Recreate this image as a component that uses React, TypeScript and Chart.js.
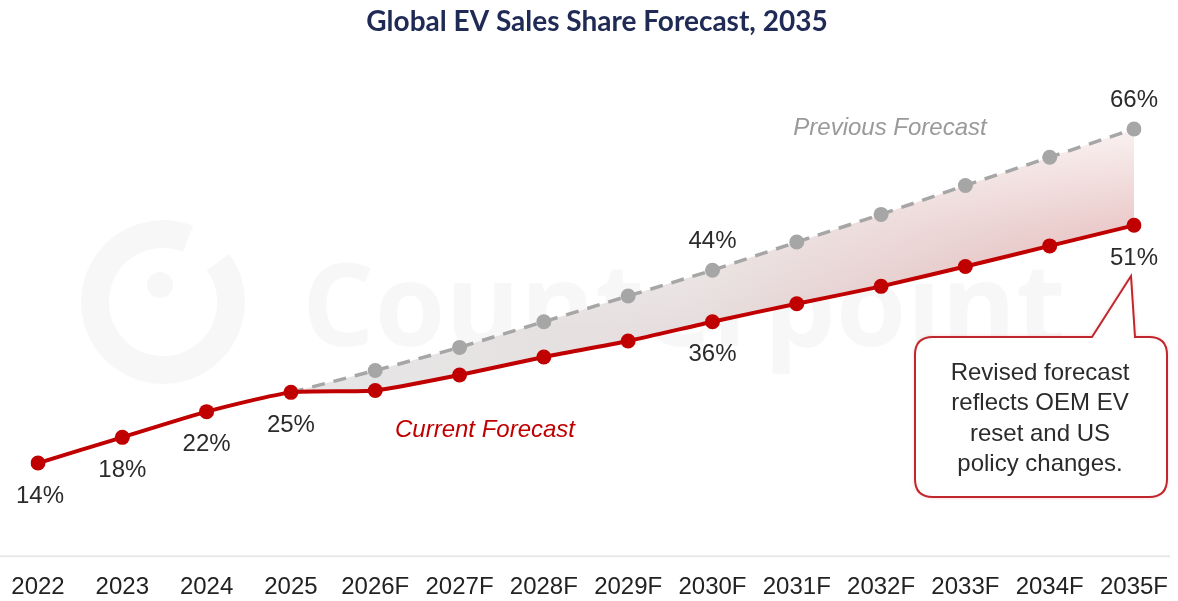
import React, { useEffect, useRef } from "react";
import { Chart, registerables } from "chart.js";

Chart.register(...registerables);

const TITLE = "Global EV Sales Share Forecast, 2035";
const categories = ["2022", "2023", "2024", "2025", "2026F", "2027F", "2028F", "2029F", "2030F", "2031F", "2032F", "2033F", "2034F", "2035F"];
const currentForecast = [14, 18, 22, 25, 25.3, 27.7, 30.5, 33, 36, 38.8, 41.5, 44.6, 47.8, 51];
const previousForecast = [null, null, null, 25, 28.4, 32, 36, 40, 44, 48.4, 52.7, 57.2, 61.6, 66];
const currentLabels: [number, string, "above" | "below"][] = [
  [0, "14%", "below"],
  [1, "18%", "below"],
  [2, "22%", "below"],
  [3, "25%", "below"],
  [8, "36%", "below"],
  [13, "51%", "below"],
];
const previousLabels: [number, string, "above" | "below"][] = [
  [8, "44%", "above"],
  [13, "66%", "above"],
];
const calloutLines = ["Revised forecast", "reflects OEM EV", "reset and US", "policy changes."];

const RED = "#c00000";
const GREY = "#a6a6a6";
const SANS = "'Liberation Sans', Arial, sans-serif";

function makeFillPattern(w: number, h: number, ctx0: CanvasRenderingContext2D) {
  const off = document.createElement("canvas");
  off.width = w;
  off.height = h;
  const c = off.getContext("2d")!;
  const hg = c.createLinearGradient(330, 0, 1134, 0);
  hg.addColorStop(0, "rgb(230,230,230)");
  hg.addColorStop(0.45, "rgb(230,222,222)");
  hg.addColorStop(1, "rgb(224,172,172)");
  c.fillStyle = hg;
  c.fillRect(0, 0, w, h);
  const vg = c.createLinearGradient(0, 125, 0, 330);
  vg.addColorStop(0, "rgba(255,255,255,0.85)");
  vg.addColorStop(0.5, "rgba(255,255,255,0.35)");
  vg.addColorStop(1, "rgba(255,255,255,0)");
  c.fillStyle = vg;
  c.fillRect(0, 0, w, h);
  return ctx0.createPattern(off, "no-repeat");
}

const decorPlugin = {
  id: "decor",
  beforeDatasetsDraw(chart: any) {
    const { ctx, chartArea } = chart;
    ctx.save();
    // baseline
    ctx.strokeStyle = "#e8e8e8";
    ctx.lineWidth = 2;
    ctx.beginPath();
    ctx.moveTo(0, chartArea.bottom);
    ctx.lineTo(1170, chartArea.bottom);
    ctx.stroke();
    // watermark
    ctx.fillStyle = "rgba(0,0,0,0.03)";
    ctx.strokeStyle = "rgba(0,0,0,0.03)";
    ctx.lineWidth = 28;
    ctx.beginPath();
    ctx.arc(163, 302, 68, -0.2 * Math.PI, 1.62 * Math.PI);
    ctx.stroke();
    ctx.beginPath();
    ctx.arc(160, 285, 13, 0, Math.PI * 2);
    ctx.fill();
    ctx.font = "bold 114px 'Open Sans', 'Liberation Sans', sans-serif";
    ctx.textBaseline = "alphabetic";
    ctx.textAlign = "left";
    ctx.fillText("Counterpoint", 302, 346);
    ctx.restore();
  },
  afterDraw(chart: any) {
    const { ctx } = chart;
    ctx.save();
    // title
    ctx.fillStyle = "#1f2a55";
    ctx.font = "bold 28px Lato, 'Liberation Sans', sans-serif";
    ctx.textAlign = "center";
    ctx.textBaseline = "middle";
    ctx.fillText(TITLE, 597, 22);

    // data labels
    ctx.font = `24px ${SANS}`;
    ctx.fillStyle = "#2b2b2b";
    const m1 = chart.getDatasetMeta(1);
    const m0 = chart.getDatasetMeta(0);
    currentLabels.forEach(([i, t, pos]) => {
      const p = m1.data[i];
      ctx.fillText(t, p.x + (i === 0 ? 2 : 0), pos === "below" ? p.y + 33 : p.y - 29);
    });
    previousLabels.forEach(([i, t, pos]) => {
      const p = m0.data[i];
      ctx.fillText(t, p.x, pos === "below" ? p.y + 33 : p.y - 29);
    });

    // series captions
    ctx.font = `italic 24px ${SANS}`;
    ctx.fillStyle = "#9a9a9a";
    ctx.fillText("Previous Forecast", 890, 128);
    ctx.fillStyle = RED;
    ctx.fillText("Current Forecast", 485, 430);

    // callout
    const L = 915, R = 1167, T = 337, B = 497, r = 18;
    const tipX = 1131, tipY = 276, b1 = 1092, b2 = 1135;
    ctx.beginPath();
    ctx.moveTo(L + r, T);
    ctx.lineTo(b1, T);
    ctx.lineTo(tipX, tipY);
    ctx.lineTo(b2, T);
    ctx.lineTo(R - r, T);
    ctx.quadraticCurveTo(R, T, R, T + r);
    ctx.lineTo(R, B - r);
    ctx.quadraticCurveTo(R, B, R - r, B);
    ctx.lineTo(L + r, B);
    ctx.quadraticCurveTo(L, B, L, B - r);
    ctx.lineTo(L, T + r);
    ctx.quadraticCurveTo(L, T, L + r, T);
    ctx.closePath();
    ctx.shadowColor = "rgba(192,0,0,0.25)";
    ctx.shadowBlur = 4;
    ctx.fillStyle = "#ffffff";
    ctx.fill();
    ctx.shadowBlur = 0;
    ctx.shadowColor = "transparent";
    ctx.strokeStyle = "#c0262b";
    ctx.lineWidth = 2;
    ctx.stroke();
    ctx.fillStyle = "#2b2b2b";
    ctx.font = `24px ${SANS}`;
    calloutLines.forEach((ln, k) => {
      ctx.fillText(ln, 1040, 373 + k * 30.5);
    });
    ctx.restore();
  },
};

export default function App() {
  const ref = useRef<HTMLCanvasElement | null>(null);
  useEffect(() => {
    const canvas = ref.current!;
    const ctx0 = canvas.getContext("2d")!;
    const pattern = makeFillPattern(1178, 601, ctx0);
    const chart = new Chart(canvas, {
      type: "line",
      data: {
        labels: categories,
        datasets: [
          {
            label: "Previous Forecast",
            data: previousForecast,
            borderColor: GREY,
            backgroundColor: pattern as any,
            borderWidth: 3.5,
            borderDash: [13, 9],
            pointRadius: previousForecast.map((v, i) => (i === 3 || v === null ? 0 : 7.5)),
            pointBackgroundColor: GREY,
            pointBorderWidth: 0,
            pointHoverRadius: 0,
            fill: { target: 1 },
            tension: 0,
            order: 2,
            spanGaps: false,
          },
          {
            label: "Current Forecast",
            data: currentForecast,
            borderColor: RED,
            backgroundColor: RED,
            borderWidth: 4,
            pointRadius: 7.5,
            pointBackgroundColor: RED,
            pointBorderWidth: 0,
            fill: false,
            tension: 0.2,
            order: 1,
          },
        ],
      },
      options: {
        responsive: false,
        animation: false,
        layout: { padding: { left: 38, right: 44, top: 39, bottom: -1 } },
        plugins: {
          legend: { display: false },
          tooltip: { enabled: false },
          title: { display: false },
        },
        scales: {
          x: {
            offset: false,
            grid: { display: false, drawTicks: true, tickLength: 17 },
            border: { display: false },
            ticks: {
              color: "#222222",
              font: { family: SANS, size: 24 },
              padding: 0,
              maxRotation: 0,
              autoSkip: false,
            },
          },
          y: {
            display: false,
            min: -0.5,
            max: 80,
          },
        },
      },
      plugins: [decorPlugin],
    });
    return () => chart.destroy();
  }, []);
  return (
    <div style={{ position: "absolute", left: 0, top: 0, width: 1178, height: 601, background: "#ffffff" }}>
      <canvas ref={ref} width={1178} height={601} style={{ display: "block" }} />
    </div>
  );
}
